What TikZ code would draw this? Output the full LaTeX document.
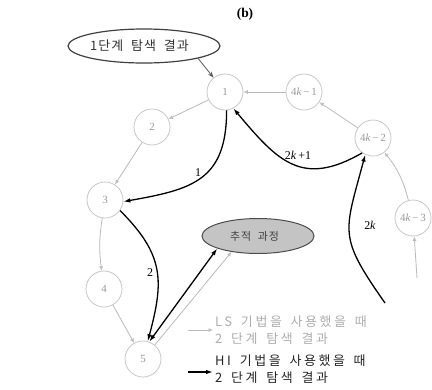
\documentclass[tikz,border=0pt]{standalone}
\usepackage{fontspec}
\setmainfont{Liberation Serif}
\newfontfamily\lat{Liberation Serif}
\newfontfamily\krtext[LetterSpace=8,WordSpace=2]{Noto Sans CJK KR}
\newfontfamily\krwide[LetterSpace=20,WordSpace=1.6]{Noto Sans CJK KR}
\usetikzlibrary{arrows.meta,shapes.geometric}

\begin{document}
\begin{tikzpicture}[x=1bp,y=1bp,
  state/.style={circle,draw=black!22,line width=0.8bp,minimum size=36bp,inner sep=0pt,
    text=black!40,font=\fontsize{11}{13}\selectfont},
  lsedge/.style={draw=black!27,line width=0.8bp,-{Latex[open,length=4.5bp,width=4bp]}},
  hiedge/.style={draw=black,line width=1.3bp,-{Latex[length=7bp,width=4.5bp]}},
  entry/.style={draw=black!65,line width=0.8bp,-{Stealth[length=6bp,width=4.5bp]}},
  lbl/.style={font=\fontsize{12}{14}\selectfont,inner sep=0pt},
  startbox/.style={ellipse,draw=black!75,line width=1.2bp,fill=white,minimum width=152bp,
    minimum height=34bp,inner sep=0pt},
  starttext/.style={anchor=west,inner sep=0pt,text=black!80,font={\fontsize{13}{15}\selectfont\krtext}},
  trackbox/.style={ellipse,draw=black!70,line width=1bp,fill=black!23,minimum width=112bp,
    minimum height=35bp,inner sep=0pt},
  tracktext/.style={anchor=west,inner sep=0pt,text=black!75,font={\fontsize{11}{13}\selectfont\krtext}},
  legtext/.style={align=left,anchor=west,inner sep=0pt,font={\fontsize{13}{17}\selectfont\krwide}}
]
\useasboundingbox (0,0) rectangle (432,-390);

% title
\node[font=\bfseries\fontsize{13.5}{15}\selectfont] (title) at (245,-14) {(b)};

% states on the search ring
\node[state] (n1)  at (225,-92)  {1};
\node[state] (n2)  at (152,-127) {2};
\node[state] (n3)  at (105,-200) {3};
\node[state] (n4)  at (104,-289) {4};
\node[state] (n5)  at (143,-359) {5};
\node[state] (n41) at (304,-92)  {4\textit{k}\,−\,1};
\node[state] (n42) at (373,-138) {4\textit{k}\,−\,2};
\node[state] (n43) at (413,-218) {4\textit{k}\,−\,3};

% first-stage result and tracking process
\node[startbox] (first) at (144,-46) {};
\node[starttext] (firsttext) at (90,-46) {1단계 탐색 결과};
\node[trackbox] (track) at (258,-236) {};
\node[tracktext] (tracklabel) at (230,-236) {추적 과정};

\coordinate (tail43) at (417,-278);
\coordinate (tail2k) at (385,-303);

% entry into the ring
\draw[entry] (first.south east) -- (n1);

% LS: second-stage search path
\draw[lsedge] (n41) -- (n1);
\draw[lsedge] (n42) -- (n41);
\draw[lsedge] (n43) to[bend right=12] (n42);
\draw[lsedge] (tail43) -- (n43);
\draw[lsedge] (n1) -- (n2);
\draw[lsedge] (n2) -- (n3);
\draw[lsedge] (n3) to[bend right=8] (n4);
\draw[lsedge] (n4) -- (n5);
\draw[lsedge] (n5.50) -- (track.-149);

% HI: second-stage search path
\draw[hiedge] (n1.-85) to[out=-90,in=10,looseness=1.3] (n3.-5);
\draw[hiedge] (n3.-35) to[out=-45,in=75,looseness=1.2] (n5.75);
\draw[hiedge,{Latex[length=7bp,width=4.5bp]}-{Latex[length=7bp,width=4.5bp]}] (n5.70) -- (track.-163);
\draw[hiedge] (n42.-126) to[out=210,in=-50,looseness=1.3] (n1.-63);
\draw[hiedge] (tail2k) to[out=125,in=-105,looseness=1.4] (n42.-115);

% step labels
\node[lbl] (s1) at (198,-173) {1};
\node[lbl] (s2) at (150,-273) {2};
\node[lbl] (s3) at (298,-155) {2\textit{k}\,+1};
\node[lbl] (s4) at (370,-225) {2\textit{k}};

% legend
\coordinate (lsa) at (188,-330);
\coordinate (lsb) at (213,-330);
\coordinate (hia) at (188,-372);
\coordinate (hib) at (213,-372);
\draw[lsedge] (lsa) -- (lsb);
\draw[hiedge] (hia) -- (hib);
\node[legtext,text=black!32] (lstext) at (215,-330) {LS 기법을 사용했을 때\\2 단계 탐색 결과};
\node[legtext,text=black!85] (hitext) at (215,-369.5) {HI 기법을 사용했을 때\\2 단계 탐색 결과};
\end{tikzpicture}
\end{document}
